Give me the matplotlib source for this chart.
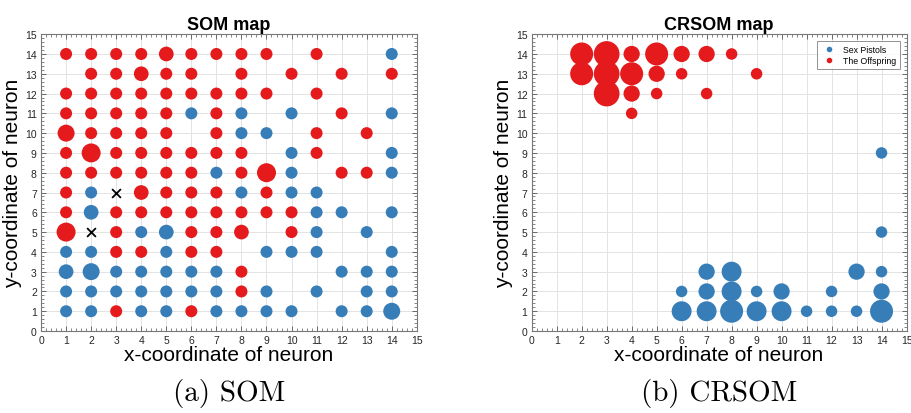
import matplotlib
matplotlib.use("Agg")
import matplotlib.pyplot as plt
from matplotlib.lines import Line2D
from matplotlib.ticker import MultipleLocator

plt.rcParams['font.family'] = ['Liberation Sans', 'DejaVu Sans']

RED = '#e41a1c'
BLUE = '#377eb8'

# SOM: occupied neurons per row (y -> list of x), by band
som_red_rows = {
    14: [1, 2, 3, 4, 5, 6, 7, 8, 9, 11],
    13: [2, 3, 4, 5, 6, 8, 10, 12, 14],
    12: [1, 2, 3, 4, 5, 6, 7, 8, 9, 11],
    11: [1, 2, 3, 4, 5, 7, 12],
    10: [1, 2, 3, 4, 5, 7, 11, 13],
    9: [1, 2, 3, 4, 5, 6, 7, 8, 11],
    8: [1, 2, 3, 4, 5, 6, 8, 9, 12, 13],
    7: [1, 4, 5, 6, 7, 9],
    6: [1, 3, 4, 5, 6, 7, 8, 9, 10],
    5: [1, 3, 6, 7, 8, 10],
    4: [3, 4, 6, 7],
    3: [8],
    2: [8],
    1: [3, 6],
}
som_blue_rows = {
    14: [14],
    11: [6, 8, 10, 14],
    10: [8, 9],
    9: [10, 14],
    8: [7, 10, 14],
    7: [2, 8, 10, 11],
    6: [2, 11, 12, 14],
    5: [4, 5, 11, 13],
    4: [1, 2, 5, 9, 10, 11, 14],
    3: [1, 2, 3, 4, 5, 6, 7, 12, 13, 14],
    2: [1, 2, 3, 4, 5, 6, 7, 9, 11, 13, 14],
    1: [1, 2, 4, 5, 7, 8, 9, 10, 12, 13, 14],
}
som_default_hits = 2
som_hits = {(5, 14): 3, (4, 13): 3, (1, 10): 4, (2, 9): 5, (9, 8): 5,
            (4, 7): 3, (2, 6): 3, (1, 5): 5, (5, 5): 3, (8, 5): 3,
            (2, 3): 4, (1, 3): 3, (14, 1): 4}
som_cross_x = [3, 2]
som_cross_y = [7, 5]

# CRSOM
crsom_red_x = [2, 3, 4, 5, 6, 7, 8, 2, 3, 4, 5, 6, 9, 3, 4, 5, 7, 4]
crsom_red_y = [14, 14, 14, 14, 14, 14, 14, 13, 13, 13, 13, 13, 13, 12, 12, 12, 12, 11]
crsom_red_hits = [4, 5, 2, 4, 2, 2, 1, 4, 5, 4, 2, 1, 1, 5, 2, 1, 1, 1]

crsom_blue_x = [14, 14, 7, 8, 13, 14, 6, 7, 8, 9, 10, 12, 14,
                6, 7, 8, 9, 10, 11, 12, 13, 14]
crsom_blue_y = [9, 5, 3, 3, 3, 3, 2, 2, 2, 2, 2, 2, 2,
                1, 1, 1, 1, 1, 1, 1, 1, 1]
crsom_blue_hits = [1, 1, 2, 3, 2, 1, 1, 2, 3, 1, 2, 1, 2,
                   3, 3, 4, 3, 3, 1, 1, 1, 4]

labels = ['Sex Pistols', 'The Offspring']


def unpack(rows, default, overrides):
    xs, ys, hs = [], [], []
    for y, row in rows.items():
        for x in row:
            xs.append(x)
            ys.append(y)
            hs.append(overrides.get((x, y), default))
    return xs, ys, hs


def style_axes(ax, title):
    ax.set_xlim(0, 15)
    ax.set_ylim(0, 15)
    ax.xaxis.set_major_locator(MultipleLocator(1))
    ax.yaxis.set_major_locator(MultipleLocator(1))
    ax.xaxis.set_minor_locator(MultipleLocator(0.2))
    ax.yaxis.set_minor_locator(MultipleLocator(0.2))
    ax.tick_params(which='both', direction='in', top=True, right=True,
                   colors='#555555', labelcolor='#262626', labelsize=7.5)
    ax.tick_params(which='major', length=3.5, width=0.6, pad=3)
    ax.tick_params(which='minor', length=2, width=0.5)
    for s in ax.spines.values():
        s.set_color('#777777')
        s.set_linewidth(0.8)
    ax.grid(True, which='major', color='#e3e3e3', linewidth=0.7)
    ax.set_axisbelow(True)
    ax.set_title(title, fontsize=13, fontweight='bold', pad=4)
    ax.set_xlabel('x-coordinate of neuron', fontsize=15, labelpad=0)
    ax.set_ylabel('y-coordinate of neuron', fontsize=15, labelpad=2)


fig = plt.figure(figsize=(9.12, 4.14), dpi=100)
ax1 = fig.add_axes([0.045, 0.198, 0.412, 0.717])
ax2 = fig.add_axes([0.583, 0.198, 0.411, 0.717])

som_k = 37.4
bx, by, bh = unpack(som_blue_rows, som_default_hits, som_hits)
rx, ry, rh = unpack(som_red_rows, som_default_hits, som_hits)
ax1.scatter(bx, by, s=[som_k * h for h in bh], color=BLUE, linewidths=0, zorder=3)
ax1.scatter(rx, ry, s=[som_k * h for h in rh], color=RED, linewidths=0, zorder=3)
ax1.scatter(som_cross_x, som_cross_y, marker='x', s=40, color='black',
            linewidths=1.3, zorder=3)
style_axes(ax1, 'SOM map')

crsom_k = 68.6
ax2.scatter(crsom_blue_x, crsom_blue_y, s=[crsom_k * h for h in crsom_blue_hits],
            color=BLUE, linewidths=0, zorder=3, label=labels[0])
ax2.scatter(crsom_red_x, crsom_red_y, s=[crsom_k * h for h in crsom_red_hits],
            color=RED, linewidths=0, zorder=3, label=labels[1])
style_axes(ax2, 'CRSOM map')

handles = [Line2D([], [], marker='o', linestyle='none', markersize=4,
                  markerfacecolor=c, markeredgewidth=0) for c in (BLUE, RED)]
leg = ax2.legend(handles, labels, loc='upper right', fontsize=6.3,
                 frameon=True, fancybox=False, edgecolor='#777777',
                 handletextpad=0.6, borderpad=0.4, labelspacing=0.3,
                 borderaxespad=0.8)
leg.get_frame().set_linewidth(0.7)

fig.text(0.251, 0.05, '(a) SOM', ha='center', va='center',
         fontsize=21, family='cmr10')
fig.text(0.789, 0.05, '(b) CRSOM', ha='center', va='center',
         fontsize=21, family='cmr10')

fig.savefig('out.png', dpi=100)
